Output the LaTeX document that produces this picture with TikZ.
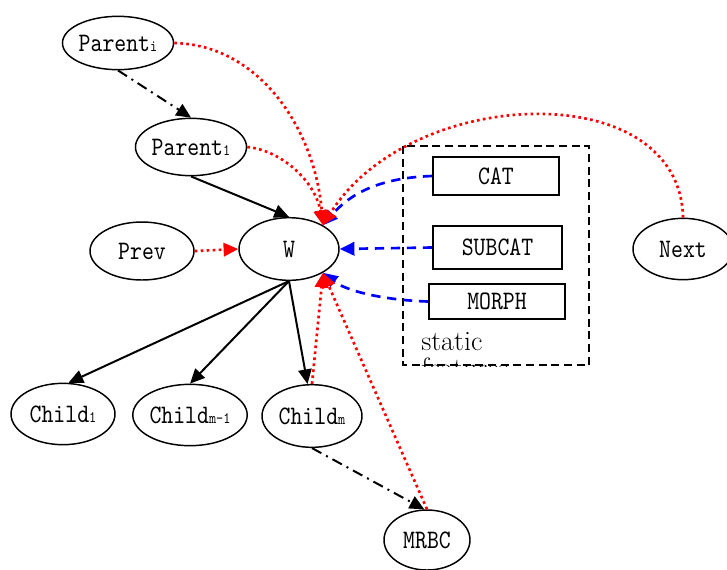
\documentclass[tikz,border=0pt]{standalone}
\usepackage{fontspec}
\newfontfamily\simfont{lmmono10-regular.otf}[FakeStretch=0.85]
\usetikzlibrary{arrows.meta,shapes.geometric}
\newcommand{\sbs}[1]{{\fontsize{12}{12}\selectfont #1}}
\tikzset{
  ell/.style={ellipse,draw,line width=1.1pt,inner sep=0pt,font=\simfont\fontsize{20}{20}\selectfont},
  featbox/.style={rectangle,draw,line width=1.2pt,inner sep=0pt,font=\simfont\fontsize{20}{20}\selectfont},
  arrtip/.style={-{Triangle[length=11pt,width=10pt]}},
  solidarr/.style={arrtip,line width=1.5pt},
  dasharr/.style={arrtip,line width=1.5pt,dash pattern=on 8pt off 4pt on 1.5pt off 4pt},
  redarr/.style={arrtip,red,line width=2pt,dash pattern=on 2pt off 2.5pt},
  bluearr/.style={arrtip,blue,line width=2pt,dash pattern=on 7pt off 5pt},
}
\begin{document}
\begin{tikzpicture}[x=0.75pt,y=-0.75pt]
\useasboundingbox (0,0) rectangle (727,569);
% nodes
\node[ell,minimum width=77pt,minimum height=40pt] (Pi) at (118,43) {Parent\sbs{i}};
\node[ell,minimum width=76pt,minimum height=43pt] (P1) at (191,147) {Parent\sbs{1}};
\node[ell,minimum width=75pt,minimum height=47pt] (W) at (289,249) {W};
\node[ell,minimum width=78pt,minimum height=43.5pt] (Prev) at (142,251) {Prev};
\node[ell,minimum width=75pt,minimum height=46pt] (Next) at (683,249) {Next};
\node[ell,minimum width=78pt,minimum height=46pt] (C1) at (63,414) {Child\sbs{1}};
\node[ell,minimum width=76.5pt,minimum height=46pt] (C2) at (190,415) {Child\sbs{m-1}};
\node[ell,minimum width=75pt,minimum height=47pt] (C3) at (312,416) {Child\sbs{m}};
\node[ell,minimum width=64.5pt,minimum height=45pt] (M) at (427,540) {MRBC};
% feature boxes
\draw[line width=1.2pt,dash pattern=on 6pt off 3.5pt] (403,146) rectangle (589,365);
\node[featbox,minimum width=94.5pt,minimum height=28.5pt] (CAT) at (496,176) {CAT};
\node[featbox,minimum width=96.75pt,minimum height=32.25pt] (SUB) at (497.5,247.5) {SUBCAT};
\node[featbox,minimum width=102pt,minimum height=26.25pt] (MOR) at (497,301.5) {MORPH};
\begin{scope}
\clip (404,147) rectangle (588,366);
\node[anchor=base west,inner sep=0pt,font=\fontsize{21}{21}\selectfont] (st) at (421,350) {static};
\node[anchor=base west,inner sep=0pt,font=\fontsize{21}{21}\selectfont] (ft) at (421,377) {features};
\end{scope}
% black edges
\draw[dasharr] (Pi.south) -- (P1.north);
\draw[solidarr] (P1.south) -- (W.north);
\draw[solidarr] (W.south) -- (C1.80);
\draw[solidarr] (W.south) -- (C2.north);
\draw[solidarr] (W.south) -- (C3.98);
\draw[dasharr] (C3.south) -- (M.95);
% blue edges
\draw[bluearr] (CAT.west) .. controls (370,178) and (345,200) .. (W.35);
\draw[bluearr] (SUB.west) -- (W.east);
\draw[bluearr] (MOR.west) .. controls (380,300) and (345,290) .. (W.-35);
% red edges
\draw[redarr] (Prev.east) -- (W.west);
\draw[redarr] (Pi.east) .. controls (260,45) and (315,130) .. (W.35);
\draw[redarr] (P1.east) .. controls (280,150) and (315,180) .. (W.35);
\draw[redarr] (Next.north) .. controls (680,75) and (410,85) .. (W.35);
\draw[redarr] (C3.north) -- (W.-35);
\draw[redarr] (M.north) -- (W.-35);
\end{tikzpicture}
\end{document}
